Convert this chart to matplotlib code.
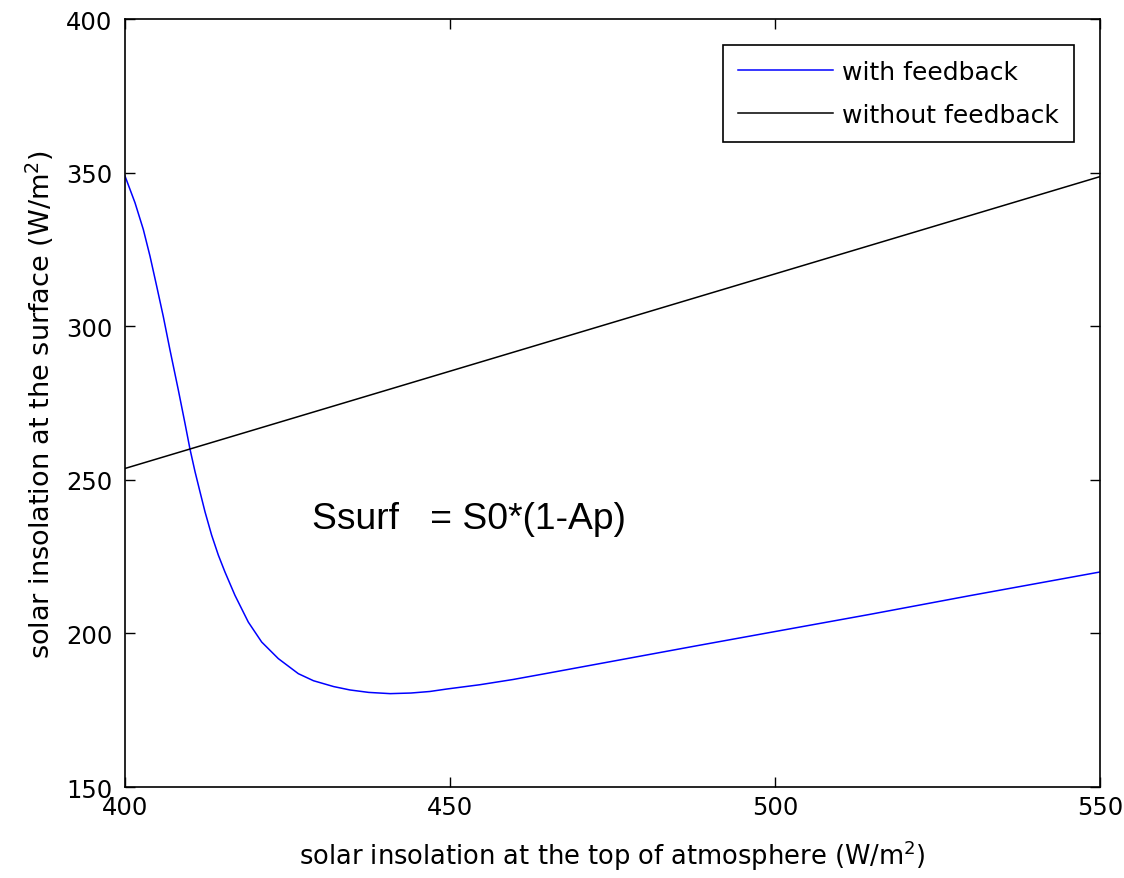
import matplotlib
matplotlib.use("Agg")
import matplotlib.pyplot as plt

# top-of-atmosphere insolation (W/m2) and surface insolation
s0_fb = [400.0, 401.54, 402.82, 403.85, 404.88, 405.89, 406.92, 408.2, 409.23, 410.0,
         410.77, 411.54, 412.31, 413.33, 414.36, 415.38, 416.92, 418.97, 421.03,
         423.59, 426.67, 429.0, 432.1, 434.6, 437.5, 440.8, 444.0, 446.9, 449.5,
         454.6, 459.7, 464.9, 472.6, 480.3, 488.0, 499.2, 514.6, 530.0, 550.0]
ssurf_fb = [348.9, 340.2, 331.5, 322.8, 313.0, 303.2, 292.3, 279.3, 268.4, 260.0,
            252.7, 246.1, 239.6, 232.0, 225.5, 220.0, 212.4, 203.7, 197.2,
            191.8, 186.9, 184.6, 182.7, 181.6, 180.8, 180.4, 180.6, 181.1, 181.9,
            183.3, 185.0, 187.0, 190.0, 193.0, 196.0, 200.3, 206.2, 212.3, 220.0]

s0_nofb = [400, 550]
ssurf_nofb = [253.7, 348.7]

fig = plt.figure(figsize=(11.24, 8.79), dpi=100)
ax = fig.add_axes([0.1112, 0.1035, 0.8674, 0.8737])

ax.plot(s0_fb, ssurf_fb, color="#0000ff", linewidth=1.1, label="with feedback")
ax.plot(s0_nofb, ssurf_nofb, color="black", linewidth=1.1, label="without feedback")

ax.set_xlim(400, 550)
ax.set_ylim(150, 400)
ax.set_xticks([400, 450, 500, 550])
ax.set_yticks([150, 200, 250, 300, 350, 400])
ax.tick_params(direction="in", length=7, width=1, top=True, right=True,
               labelsize=17.5)
ax.tick_params(axis="y", pad=9)
ax.tick_params(axis="x", pad=6)
for sp in ax.spines.values():
    sp.set_linewidth(1.2)

ax.set_xlabel("solar insolation at the top of atmosphere (W/m$^2$)", fontsize=18.5,
              labelpad=13)
ax.set_ylabel("solar insolation at the surface (W/m$^2$)", fontsize=19.5, labelpad=7)

ax.text(428.8, 234.2, "Ssurf   = S0*(1-Ap)", fontsize=26.8,
        family="Liberation Sans", va="baseline")

leg = ax.legend(loc="upper right", bbox_to_anchor=(0.9735, 0.966), fontsize=18,
                fancybox=False, framealpha=1, edgecolor="black",
                handlelength=3.8, handletextpad=0.35, borderpad=0.6,
                labelspacing=0.75, borderaxespad=0)
leg.get_frame().set_linewidth(1.2)

fig.savefig("out.png", dpi=100)
